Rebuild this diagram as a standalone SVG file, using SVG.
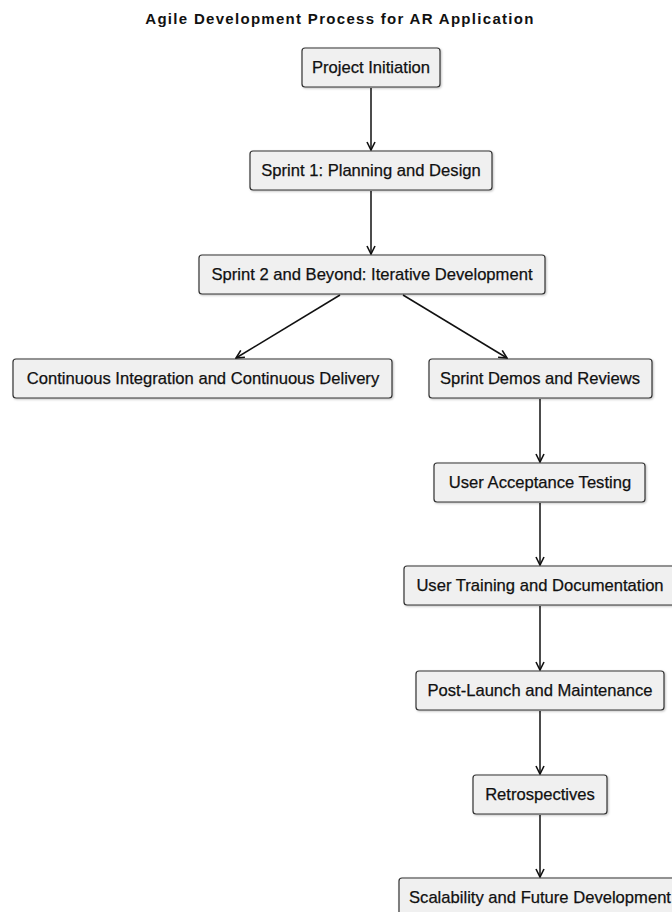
<svg xmlns="http://www.w3.org/2000/svg" width="672" height="912" viewBox="0 0 672 912">
  <style>
    .title { font-family: "Liberation Sans", Arial, sans-serif; font-size: 15px; font-weight: bold; fill: #111; letter-spacing: 1.3px; }
    .box { fill: #f0f0f0; stroke: #333; stroke-width: 1.2; }
    .label { font-family: "Liberation Sans", Arial, sans-serif; font-size: 16.6px; fill: #111; stroke: #111; stroke-width: 0.25; text-anchor: middle; dominant-baseline: central; }
    .edge { fill: none; stroke: #111; stroke-width: 1.5; marker-end: url(#arrow); }
  </style>
  <defs>
    <marker id="arrow" viewBox="0 0 10 10" refX="9" refY="5" markerWidth="10" markerHeight="10" markerUnits="userSpaceOnUse" orient="auto">
      <path d="M1,1 L9,5 L1,9" fill="none" stroke="#111" stroke-width="1.6"/>
    </marker>
    <filter id="shadow" x="-5%" y="-20%" width="110%" height="150%">
      <feDropShadow dx="1" dy="1" stdDeviation="1" flood-color="#000" flood-opacity="0.25"/>
    </filter>
  </defs>
  <rect width="672" height="912" fill="#ffffff"/>

  <text class="title" x="340" y="24" text-anchor="middle">Agile Development Process for AR Application</text>

  <g id="connectors">
    <line class="edge" x1="371" y1="88" x2="371" y2="150"/>
    <line class="edge" x1="371" y1="191" x2="371" y2="254"/>
    <line class="edge" x1="340" y1="295" x2="236" y2="358"/>
    <line class="edge" x1="403" y1="295" x2="507" y2="358"/>
    <line class="edge" x1="540" y1="399" x2="540" y2="462"/>
    <line class="edge" x1="540" y1="503" x2="540" y2="565"/>
    <line class="edge" x1="540" y1="606" x2="540" y2="670"/>
    <line class="edge" x1="540" y1="711" x2="540" y2="774"/>
    <line class="edge" x1="540" y1="815" x2="540" y2="877"/>
  </g>

  <g id="project-initiation">
    <rect class="box" x="302" y="48" width="138" height="39" rx="3" filter="url(#shadow)"/>
    <text class="label" x="371" y="67.5">Project Initiation</text>
  </g>
  <g id="sprint-1">
    <rect class="box" x="250" y="151" width="242" height="39" rx="3" filter="url(#shadow)"/>
    <text class="label" x="371" y="170.5">Sprint 1: Planning and Design</text>
  </g>
  <g id="sprint-2">
    <rect class="box" x="199" y="255" width="346" height="39" rx="3" filter="url(#shadow)"/>
    <text class="label" x="372" y="274.5">Sprint 2 and Beyond: Iterative Development</text>
  </g>
  <g id="ci-cd">
    <rect class="box" x="13" y="359" width="379" height="39" rx="3" filter="url(#shadow)"/>
    <text class="label" x="203" y="378.5">Continuous Integration and Continuous Delivery</text>
  </g>
  <g id="sprint-demos">
    <rect class="box" x="429" y="359" width="223" height="39" rx="3" filter="url(#shadow)"/>
    <text class="label" x="540" y="378.5">Sprint Demos and Reviews</text>
  </g>
  <g id="uat">
    <rect class="box" x="434" y="463" width="211" height="39" rx="3" filter="url(#shadow)"/>
    <text class="label" x="540" y="482.5">User Acceptance Testing</text>
  </g>
  <g id="user-training">
    <rect class="box" x="404" y="566" width="272" height="39" rx="3" filter="url(#shadow)"/>
    <text class="label" x="540" y="585.5">User Training and Documentation</text>
  </g>
  <g id="post-launch">
    <rect class="box" x="416" y="671" width="248" height="39" rx="3" filter="url(#shadow)"/>
    <text class="label" x="540" y="690.5">Post-Launch and Maintenance</text>
  </g>
  <g id="retrospectives">
    <rect class="box" x="473" y="775" width="134" height="39" rx="3" filter="url(#shadow)"/>
    <text class="label" x="540" y="794.5">Retrospectives</text>
  </g>
  <g id="scalability">
    <rect class="box" x="399" y="878" width="282" height="39" rx="3" filter="url(#shadow)"/>
    <text class="label" x="540" y="897.5">Scalability and Future Development</text>
  </g>
</svg>
